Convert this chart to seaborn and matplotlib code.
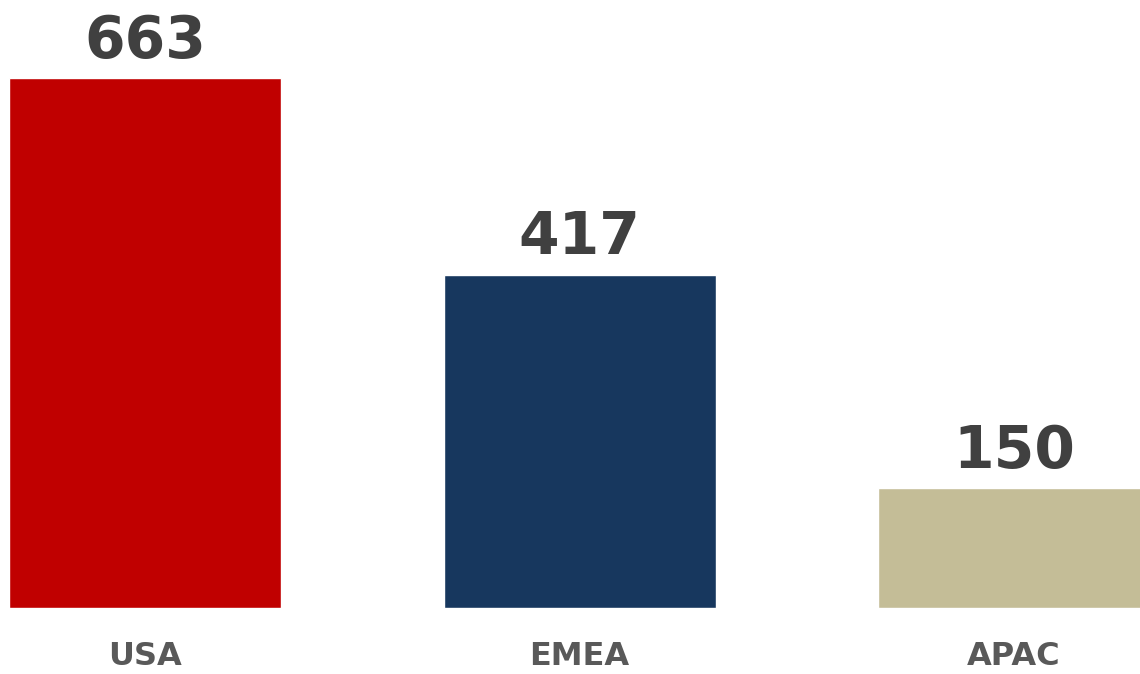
import matplotlib
matplotlib.use("Agg")
import matplotlib.pyplot as plt
import seaborn as sns
import pandas as pd

regions = ["USA", "EMEA", "APAC"]
values = [663, 417, 150]
colors = ["#C00000", "#17375E", "#C4BD97"]

sns.set_theme(style="white")
plt.rcParams["font.family"] = ["DejaVu Sans"]

df = pd.DataFrame({"region": regions, "value": values})

fig = plt.figure(figsize=(11.4, 6.74), dpi=100)
ax = fig.add_axes([0, 66 / 674, 1, 608 / 674])

sns.barplot(data=df, x="region", y="value", hue="region", palette=colors,
            width=0.626, saturation=1, legend=False, ax=ax)

ax.set_xlim(-0.334, 2.29)
ax.set_ylim(0, 760.6)
ax.set_xlabel("")
ax.set_ylabel("")
ax.set_yticks([])
ax.tick_params(axis="x", length=0, pad=24, labelsize=23, labelcolor="#595959")
for lbl in ax.get_xticklabels():
    lbl.set_fontweight("bold")
sns.despine(ax=ax, left=True, bottom=True)

for i, v in enumerate(values):
    ax.annotate(f"{v}", (i, v), xytext=(0, 6), textcoords="offset points",
                ha="center", va="bottom", fontsize=42, fontweight="bold",
                color="#404040", annotation_clip=False)

fig.savefig("out.png", dpi=100)
